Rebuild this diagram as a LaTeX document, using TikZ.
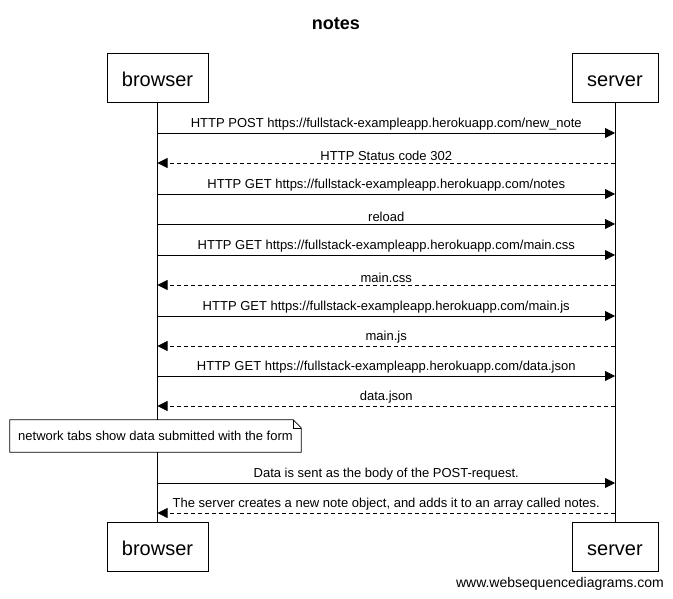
\documentclass[tikz,border=0pt]{standalone}
\usepackage{fontspec}
\setmainfont{Liberation Sans}
\usetikzlibrary{arrows.meta,calc}

\begin{document}
\begin{tikzpicture}[x=1pt, y=-1pt,
    actor/.style={draw, line width=0.8pt, minimum height=49pt, inner sep=0pt, text height=18pt, text depth=0pt, font=\fontsize{20}{24}\selectfont},
    msg/.style={-{Triangle[length=10pt, width=10pt]}, line width=0.8pt},
    reply/.style={msg, dash pattern=on 4pt off 3pt},
    lbl/.style={midway, above, inner sep=2pt, font=\fontsize{13}{15}\selectfont},
    notebox/.style={fill=white, minimum width=291pt, minimum height=32pt, inner sep=0pt, font=\fontsize{13}{15}\selectfont}
]
\useasboundingbox (0,0) rectangle (673,599);

% title
\node[font=\bfseries\fontsize{18}{22}\selectfont] (title) at (336,24) {notes};

% participants
\node[actor, minimum width=101pt] (bt) at (157.5,77.5) {browser};
\node[actor, minimum width=86pt] (st) at (615,77.5) {server};
\node[actor, minimum width=101pt] (bb) at (157.5,546.5) {browser};
\node[actor, minimum width=86pt] (sb) at (615,546.5) {server};

% lifelines
\draw[line width=0.8pt] (bt.south) -- (bb.north);
\draw[line width=0.8pt] (st.south) -- (sb.north);

% message points on the lifelines
\foreach \i/\y in {1/133,2/163,3/194,4/224,5/255,6/285,7/316,8/346,9/376,10/406,11/483,12/513} {
    \coordinate (b\i) at (bt.south |- 0,\y);
    \coordinate (s\i) at (st.south |- 0,\y);
}

\draw[msg] (b1) -- (s1) node[lbl] {HTTP POST https://fullstack-exampleapp.herokuapp.com/new\_note};
\draw[reply] (s2) -- (b2) node[lbl] {HTTP Status code 302};
\draw[msg] (b3) -- (s3) node[lbl] {HTTP GET https://fullstack-exampleapp.herokuapp.com/notes};
\draw[msg] (b4) -- (s4) node[lbl] {reload};
\draw[msg] (b5) -- (s5) node[lbl] {HTTP GET https://fullstack-exampleapp.herokuapp.com/main.css};
\draw[reply] (s6) -- (b6) node[lbl] {main.css};
\draw[msg] (b7) -- (s7) node[lbl] {HTTP GET https://fullstack-exampleapp.herokuapp.com/main.js};
\draw[reply] (s8) -- (b8) node[lbl] {main.js};
\draw[msg] (b9) -- (s9) node[lbl] {HTTP GET https://fullstack-exampleapp.herokuapp.com/data.json};
\draw[reply] (s10) -- (b10) node[lbl] {data.json};

% note over browser
\node[notebox] (note) at (155.5,436) {network tabs show data submitted with the form};
\draw[line width=0.8pt] (note.south west) -- (note.north west) -- ($(note.north east)+(-8,0)$)
    -- ($(note.north east)+(0,8)$) -- (note.south east) -- cycle;
\draw[line width=0.6pt] ($(note.north east)+(-8,0)$) -- ($(note.north east)+(-8,8)$) -- ($(note.north east)+(0,8)$);

\draw[msg] (b11) -- (s11) node[lbl] {Data is sent as the body of the POST-request.};
\draw[reply] (s12) -- (b12) node[lbl] {The server creates a new note object, and adds it to an array called notes.};

% watermark
\node[anchor=east, inner sep=0pt, font=\fontsize{14}{16}\selectfont] (wm) at (664,584) {www.websequencediagrams.com};

\end{tikzpicture}
\end{document}
